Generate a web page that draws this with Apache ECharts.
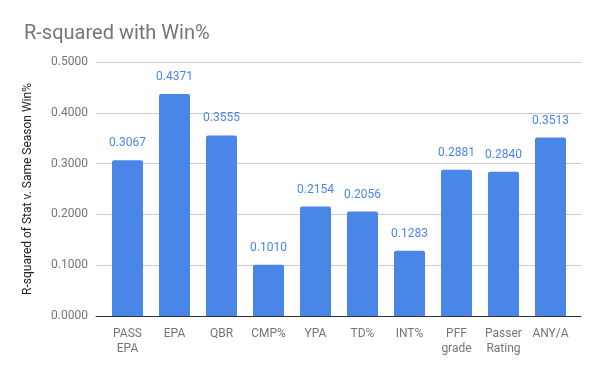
<!DOCTYPE html>
<html><head><meta charset="utf-8">
<script src="https://cdn.jsdelivr.net/npm/echarts@6/dist/echarts.min.js"></script>
<style>html,body{margin:0;padding:0;background:#fff}#c{width:600px;height:371px}</style>
</head><body><div id="c"></div>
<script>
const categories = ['PASS\nEPA','EPA','QBR','CMP%','YPA','TD%','INT%','PFF\ngrade','Passer\nRating','ANY/A'];
const values = [0.3067,0.4371,0.3555,0.1010,0.2154,0.2056,0.1283,0.2881,0.2840,0.3513];
const chart = echarts.init(document.getElementById('c'), null, {renderer:'canvas'});
const font = 'Roboto';
chart.setOption({
  animation:false,
  title:{text:'R-squared with Win%',left:19,top:19,textStyle:{fontFamily:font,fontSize:20,fontWeight:'normal',color:'#757575'}},
  grid:[
    {left:96,right:19,top:62,bottom:55,containLabel:false},
    {left:104,right:26,top:62,bottom:55,containLabel:false}
  ],
  xAxis:[
    {type:'value',gridIndex:0,min:0,max:1,show:true,axisLabel:{show:false},axisTick:{show:false},splitLine:{show:false},
     axisLine:{show:true,onZero:false,lineStyle:{color:'#333',width:1}}},
    {type:'category',gridIndex:1,data:categories,
     axisLine:{show:false},axisTick:{show:false},
     axisLabel:{fontFamily:font,fontSize:12,color:'#757575',margin:10,lineHeight:15,interval:0}}
  ],
  yAxis:[
    {type:'value',gridIndex:0,min:0,max:0.5,interval:0.1,
     name:'R-squared of Stat v. Same Season Win%',nameLocation:'middle',nameGap:62,nameRotate:90,
     nameTextStyle:{fontFamily:font,fontSize:12,color:'#222'},
     axisLine:{show:false},axisTick:{show:false},
     splitLine:{lineStyle:{color:'#ccc'}},
     axisLabel:{fontFamily:font,fontSize:12,color:'#757575',margin:8,formatter:v=>v.toFixed(4)}},
    {type:'value',gridIndex:1,min:0,max:0.5,interval:0.1,show:false}
  ],
  series:[{type:'bar',xAxisIndex:1,yAxisIndex:1,data:values,barWidth:31,z:1,
    itemStyle:{color:'#4a86e8',borderRadius:[2,2,0,0]},
    label:{show:true,position:'top',distance:11,fontFamily:font,fontSize:12,color:'#4a86e8',formatter:p=>p.value.toFixed(4)}}]
});
</script></body></html>
